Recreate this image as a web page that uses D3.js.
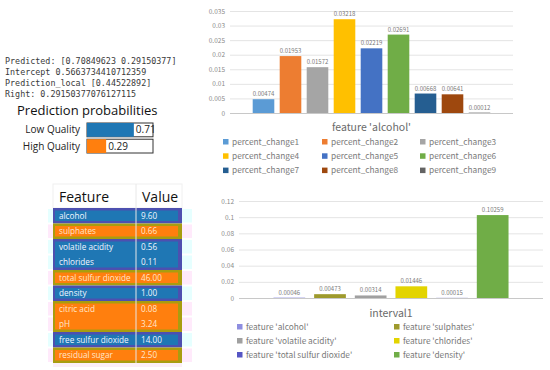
<!DOCTYPE html>
<html>
<head>
<meta charset="utf-8">
<script src="https://cdn.jsdelivr.net/npm/d3@7"></script>
<style>
  body { margin: 0; background: #fff; }
  svg { display: block; }
</style>
</head>
<body>
<div id="chart"></div>
<script>
// ---- data ----
var infoLines = [
  "Predicted: [0.70849623 0.29150377]",
  "Intercept 0.5663734410712359",
  "Prediction_local [0.44522892]",
  "Right: 0.29150377076127115"
];
var probClasses = ["Low Quality", "High Quality"];
var probValues = [0.71, 0.29];

var tableFeatures = ["alcohol", "sulphates", "volatile acidity", "chlorides", "total sulfur dioxide",
  "density", "citric acid", "pH", "free sulfur dioxide", "residual sugar"];
var tableValues = ["9.60", "0.66", "0.56", "0.11", "46.00", "1.00", "0.08", "3.24", "14.00", "2.50"];
var tableSide = ["low", "high", "low", "low", "high", "low", "high", "high", "low", "high"];

var alcoholSeries = ["percent_change1", "percent_change2", "percent_change3", "percent_change4",
  "percent_change5", "percent_change6", "percent_change7", "percent_change8", "percent_change9"];
var alcoholValues = [0.00474, 0.01953, 0.01572, 0.03218, 0.02219, 0.02691, 0.00668, 0.00641, 0.00012];
var alcoholTicks = [0, 0.005, 0.01, 0.015, 0.02, 0.025, 0.03, 0.035];

var intervalSeries = ["feature 'alcohol'", "feature 'sulphates'", "feature 'volatile acidity'",
  "feature 'chlorides'", "feature 'total sulfur dioxide'", "feature 'density'"];
var intervalValues = [0.00046, 0.00473, 0.00314, 0.01446, 0.00015, 0.10259];
var intervalTicks = [0, 0.02, 0.04, 0.06, 0.08, 0.1, 0.12];

var excelColors = ["#5B9BD5", "#ED7D31", "#A5A5A5", "#FFC000", "#4472C4", "#70AD47", "#255E91", "#9E480E", "#636363"];
var intervalColors = ["#8E8EE0", "#9E9A2C", "#A0A0A0", "#E3D400", "#5656C4", "#70AD47"];

var width = 550, height = 370;
var svg = d3.select("#chart").append("svg")
  .attr("width", width).attr("height", height);

var chartFont = "'Noto Sans CJK SC', 'Noto Sans', sans-serif";
var uiFont = "'Open Sans', 'Noto Sans', sans-serif";

// ---- lime text + prediction probabilities ----
svg.append("g").selectAll("text")
  .data(infoLines).enter().append("text")
  .attr("x", 5)
  .attr("y", function(d, i) { return 64 + i * 11; })
  .attr("font-family", "'DejaVu Sans Mono', monospace")
  .attr("font-size", 8.4)
  .attr("fill", "#3a3a3a")
  .text(function(d) { return d; });

svg.append("text")
  .attr("x", 17).attr("y", 115)
  .attr("font-family", uiFont).attr("font-size", 13)
  .attr("fill", "#111")
  .text("Prediction probabilities");

var probX = d3.scaleLinear().domain([0, 1]).range([87, 153]);
var probY = d3.scaleBand().domain(probClasses).range([123, 153]).paddingInner(0.15);
var probColors = ["#1f77b4", "#ff7f0e"];

var pg = svg.append("g").selectAll("g")
  .data(probClasses).enter().append("g");
pg.append("rect")
  .attr("x", probX(0)).attr("y", function(d) { return probY(d); })
  .attr("width", probX(1) - probX(0)).attr("height", probY.bandwidth())
  .attr("fill", "#fff").attr("stroke", "#333").attr("stroke-width", 1);
pg.append("rect")
  .attr("x", probX(0)).attr("y", function(d) { return probY(d); })
  .attr("width", function(d, i) { return probX(probValues[i]) - probX(0); })
  .attr("height", probY.bandwidth())
  .attr("fill", function(d, i) { return probColors[i]; });
pg.append("text")
  .attr("x", 80).attr("y", function(d) { return probY(d) + probY.bandwidth() / 2 + 3.5; })
  .attr("text-anchor", "end")
  .attr("font-family", uiFont).attr("font-size", 10).attr("fill", "#222")
  .text(function(d) { return d; });
pg.append("text")
  .attr("x", function(d, i) { return probX(probValues[i]) + 2; })
  .attr("y", function(d) { return probY(d) + probY.bandwidth() / 2 + 3.5; })
  .attr("font-family", uiFont).attr("font-size", 10).attr("fill", "#222")
  .text(function(d, i) { return probValues[i].toFixed(2); });

// ---- feature/value table ----
var tblX0 = 53, tblX1 = 182, tblMid = 136;
var rowY = d3.scaleBand().domain(d3.range(tableFeatures.length)).range([208, 363]);
var sideFill = { low: "#1f77b4", high: "#ff7f0e" };
var sideEdge = { low: "#4d50b0", high: "#a89d10" };
var sideTint = { low: "#e6ffff", high: "#ffeafb" };
var sideText = { low: "#f2f6ff", high: "#ffe6cc" };

var tbl = svg.append("g");
tbl.append("rect").attr("x", tblX0).attr("y", 184).attr("width", tblX1 - tblX0).attr("height", 24)
  .attr("fill", "#fff").attr("stroke", "#f0f0f0");
tbl.append("text").attr("x", 59).attr("y", 202)
  .attr("font-family", uiFont).attr("font-size", 14).attr("fill", "#111").text("Feature");
tbl.append("text").attr("x", 142).attr("y", 202)
  .attr("font-family", uiFont).attr("font-size", 14).attr("fill", "#111").text("Value");

// light tint strips outside the table
tbl.selectAll(".tint").data(tableFeatures).enter().append("rect")
  .attr("x", 48).attr("y", function(d, i) { return rowY(i) + 1; })
  .attr("width", 144).attr("height", rowY.bandwidth() - 2)
  .attr("fill", function(d, i) { return sideTint[tableSide[i]]; });

// group consecutive rows of the same side
var groups = [];
tableSide.forEach(function(s, i) {
  if (groups.length && groups[groups.length - 1].side === s) groups[groups.length - 1].end = i;
  else groups.push({ side: s, start: i, end: i });
});
tbl.selectAll(".grp").data(groups).enter().append("rect")
  .attr("x", tblX0).attr("y", function(g) { return rowY(g.start); })
  .attr("width", tblX1 - tblX0)
  .attr("height", function(g) { return rowY(g.end) + rowY.bandwidth() - rowY(g.start); })
  .attr("fill", function(g) { return sideEdge[g.side]; });
tbl.selectAll(".grpIn").data(groups).enter().append("rect")
  .attr("x", tblX0 + 2).attr("y", function(g) { return rowY(g.start) + 2.5; })
  .attr("width", tblX1 - tblX0 - 6)
  .attr("height", function(g) { return rowY(g.end) + rowY.bandwidth() - rowY(g.start) - 5; })
  .attr("fill", function(g) { return sideFill[g.side]; });
tbl.append("line").attr("x1", tblMid).attr("x2", tblMid).attr("y1", 184).attr("y2", 363)
  .attr("stroke", "#e8e8e8").attr("stroke-width", 1);
tbl.append("rect").attr("x", tblX0).attr("y", 363).attr("width", tblX1 - tblX0).attr("height", 4)
  .attr("fill", "#fbeef8");

tbl.selectAll(".fname").data(tableFeatures).enter().append("text")
  .attr("x", 59).attr("y", function(d, i) { return rowY(i) + rowY.bandwidth() / 2 + 3; })
  .attr("font-family", uiFont).attr("font-size", 8.2)
  .attr("fill", function(d, i) { return sideText[tableSide[i]]; })
  .text(function(d) { return d; });
tbl.selectAll(".fval").data(tableValues).enter().append("text")
  .attr("x", 141).attr("y", function(d, i) { return rowY(i) + rowY.bandwidth() / 2 + 3; })
  .attr("font-family", uiFont).attr("font-size", 8.2)
  .attr("fill", function(d, i) { return sideText[tableSide[i]]; })
  .text(function(d) { return d; });

// ---- excel-like bar chart helper ----
function barChart(opt) {
  var g = svg.append("g");
  var y = d3.scaleLinear().domain(opt.domain).range(opt.yRange);
  var x = d3.scaleBand().domain(opt.series).range(opt.xBars).paddingInner(opt.pad).paddingOuter(opt.pad / 2);

  var axis = d3.axisLeft(y).tickValues(opt.ticks).tickSize(-(opt.plot[1] - opt.plot[0]))
    .tickFormat(function(d) { return d3.format("")(+d.toFixed(4)); });
  var ax = g.append("g").attr("transform", "translate(" + opt.plot[0] + ",0)").call(axis);
  ax.select(".domain").remove();
  ax.selectAll("line").attr("stroke", function(d) { return d === 0 ? "#c8c8c8" : "#e4e4e4"; });
  ax.selectAll("text").attr("fill", "#8a8a8a").attr("font-size", 6.5)
    .attr("font-family", chartFont).attr("x", -5);

  g.selectAll(".bar").data(opt.values).enter().append("rect")
    .attr("x", function(d, i) { return x(opt.series[i]); })
    .attr("y", function(d) { return y(d); })
    .attr("width", x.bandwidth())
    .attr("height", function(d) { return y(0) - y(d); })
    .attr("fill", function(d, i) { return opt.colors[i]; });
  g.selectAll(".lbl").data(opt.values).enter().append("text")
    .attr("x", function(d, i) { return x(opt.series[i]) + x.bandwidth() / 2; })
    .attr("y", function(d) { return y(d) - 3; })
    .attr("text-anchor", "middle")
    .attr("font-family", chartFont).attr("font-size", 6)
    .attr("fill", "#7a7a7a")
    .text(function(d) { return d3.format(".5f")(d); });

  g.append("text").attr("x", (opt.plot[0] + opt.plot[1]) / 2).attr("y", opt.titleY)
    .attr("text-anchor", "middle").attr("font-family", chartFont).attr("font-size", 10.5)
    .attr("fill", "#6a6a6a").text(opt.title);

  var lg = g.selectAll(".leg").data(opt.series).enter().append("g")
    .attr("transform", function(d, i) {
      var c = i % opt.legCols.length, r = Math.floor(i / opt.legCols.length);
      return "translate(" + opt.legCols[c] + "," + (opt.legY + r * opt.legStep) + ")";
    });
  lg.append("rect").attr("x", 0).attr("y", -3).attr("width", 5.5).attr("height", 5.5)
    .attr("fill", function(d, i) { return opt.colors[i]; });
  lg.append("text").attr("x", 9).attr("y", 2.8)
    .attr("font-family", chartFont).attr("font-size", 8.3).attr("fill", "#7a7a7a")
    .text(function(d) { return d; });
}

barChart({
  series: alcoholSeries, values: alcoholValues, colors: excelColors, ticks: alcoholTicks,
  domain: [0, 0.035], yRange: [113, 11], plot: [230, 513], xBars: [250, 493], pad: 0.2,
  title: "feature 'alcohol'", titleY: 131,
  legCols: [223, 322, 420], legY: 142, legStep: 14.3
});

barChart({
  series: intervalSeries, values: intervalValues, colors: intervalColors, ticks: intervalTicks,
  domain: [0, 0.12], yRange: [298, 201], plot: [239, 543], xBars: [269, 513], pad: 0.22,
  title: "interval1", titleY: 317,
  legCols: [237, 394], legY: 327, legStep: 14
});
</script>
</body>
</html>
